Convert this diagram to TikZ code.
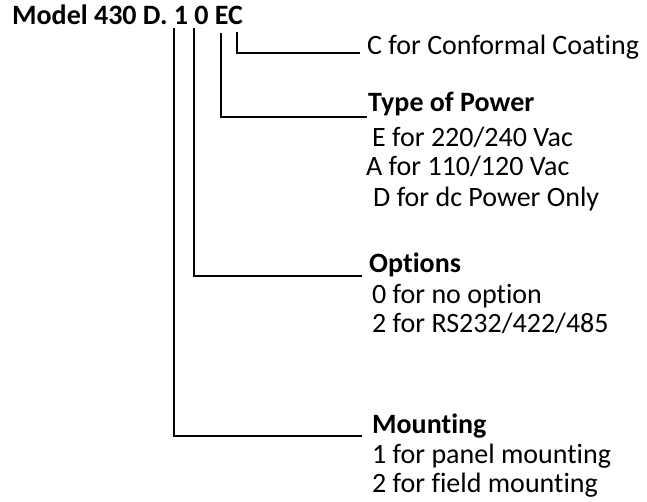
\documentclass[tikz,border=0pt]{standalone}
\usepackage{fontspec}
\setmainfont{Carlito}[Ligatures=NoCommon]
\usetikzlibrary{positioning, calc}

\begin{document}
\begin{tikzpicture}[
    x=1pt, y=-1pt,
    label/.style={anchor=base west, inner sep=0pt, font=\fontsize{28}{30}\selectfont},
    head/.style={label, font=\fontsize{28}{30}\selectfont\bfseries},
    lead/.style={line width=2pt}
]
    \useasboundingbox (0,0) rectangle (647,501);

    % model code
    \node[head] (model) at (12,24) {Model 430 D. 1 0 EC};
    \coordinate (tickmount) at (174,28);
    \coordinate (tickopt) at (194,28);
    \coordinate (tickpower) at (221,33);
    \coordinate (tickcoat) at (237,32);

    % explanations
    \node[label] (coat) at (367,54) {C for Conformal Coating};
    \node[head] (power) at (368,111) {Type of Power};
    \node[label] (powere) at (372,146) {E for 220/240 Vac};
    \node[label] (powera) at (366,175) {A for 110/120 Vac};
    \node[label] (powerd) at (373,206) {D for dc Power Only};
    \node[head] (opt) at (369,272) {Options};
    \node[label] (optno) at (372,303) {0 for no option};
    \node[label] (optrs) at (372,332) {2 for RS232/422/485};
    \node[head] (mount) at (372,433) {Mounting};
    \node[label] (mountpanel) at (372,463) {1 for panel mounting};
    \node[label] (mountfield) at (372,492) {2 for field mounting};

    % leaders
    \draw[lead] (tickcoat) |- ([shift={(-7,-1)}]coat.base west);
    \draw[lead] (tickpower) |- ([shift={(-1,6)}]power.base west);
    \draw[lead] (tickopt) |- ([shift={(-7,4)}]opt.base west);
    \draw[lead] (tickmount) |- ([shift={(-10,3)}]mount.base west);
\end{tikzpicture}
\end{document}
